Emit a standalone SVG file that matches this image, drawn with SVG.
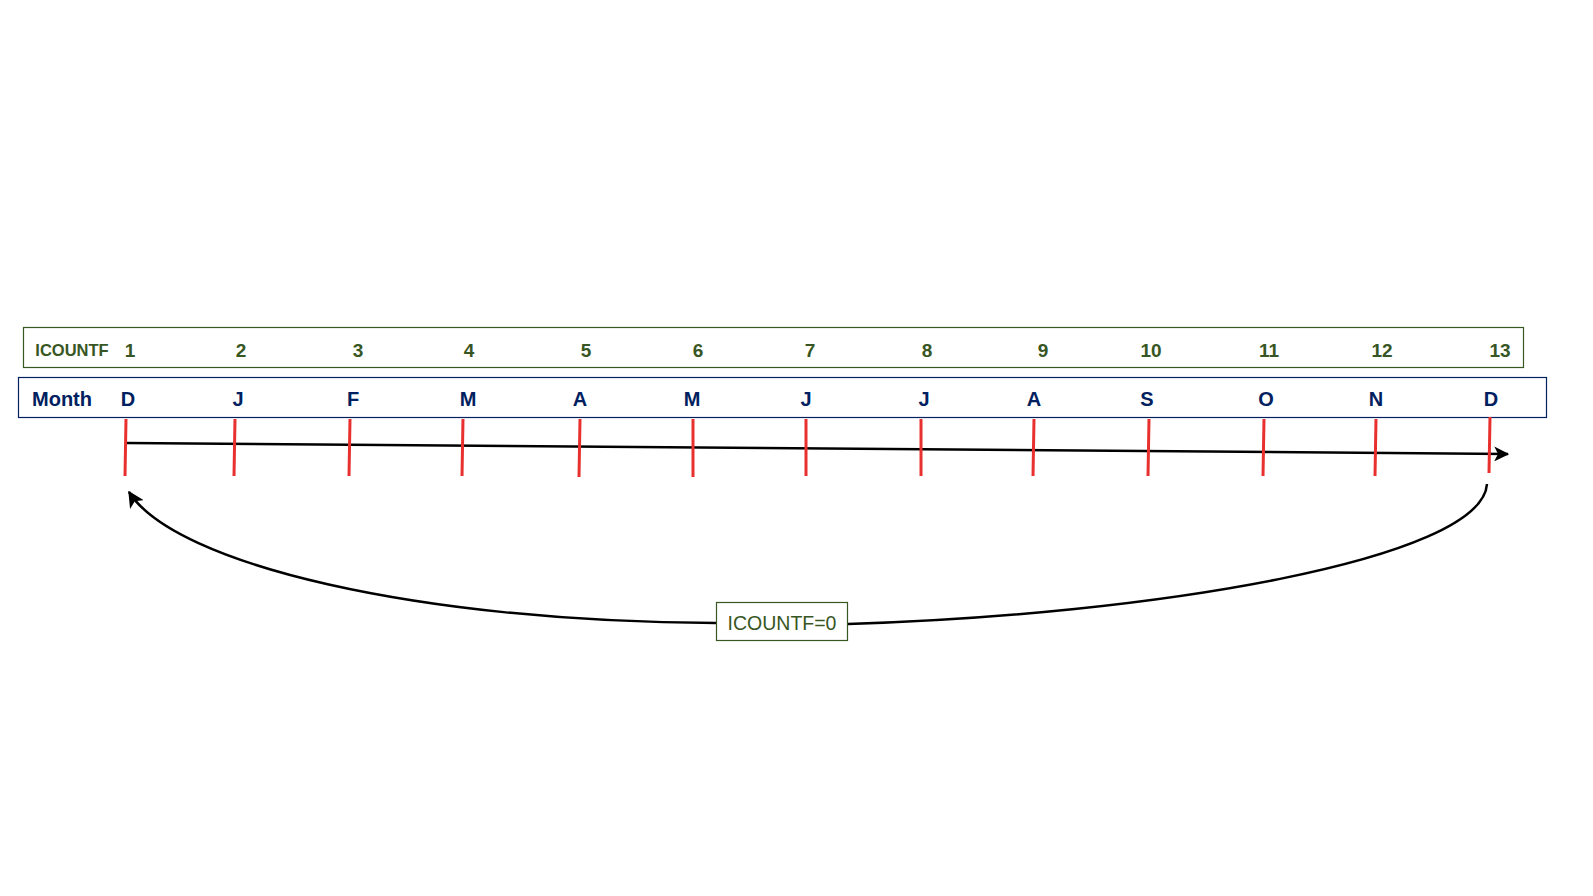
<svg xmlns="http://www.w3.org/2000/svg" width="1593" height="896" viewBox="0 0 1593 896">
<style>
.g{font-family:"Liberation Sans",Arial,sans-serif;font-weight:bold;font-size:19px;fill:#375623;text-anchor:middle}
.gl{font-family:"Liberation Sans",Arial,sans-serif;font-weight:bold;font-size:16.5px;fill:#375623;text-anchor:middle}
.m{font-family:"Liberation Sans",Arial,sans-serif;font-weight:bold;font-size:20px;fill:#002060;text-anchor:middle}
.tick{stroke:#e8302f;stroke-width:3}
.conn{fill:none;stroke:#000;stroke-width:2.5}
</style>
<defs>
<marker id="ah" viewBox="0 0 12 12" refX="11" refY="6" markerWidth="6" markerHeight="6" orient="auto" markerUnits="strokeWidth">
<path d="M0,0 L12,6 L0,12 L3,6 Z" fill="#000"/>
</marker>
<marker id="ah2" viewBox="0 0 12 12" refX="11" refY="6" markerWidth="6.5" markerHeight="6.5" orient="auto" markerUnits="strokeWidth">
<path d="M0,0 L12,6 L0,12 L3,6 Z" fill="#000"/>
</marker>
</defs>
<rect width="1593" height="896" fill="#fff"/>
<g id="icountf-row">
<rect x="23.5" y="327.5" width="1500" height="40" fill="#fff" stroke="#385723" stroke-width="1.2"/>
<text class="gl" x="72" y="356">ICOUNTF</text>
<text class="g" x="130" y="357">1</text>
<text class="g" x="241" y="357">2</text>
<text class="g" x="358" y="357">3</text>
<text class="g" x="469" y="357">4</text>
<text class="g" x="586" y="357">5</text>
<text class="g" x="698" y="357">6</text>
<text class="g" x="810" y="357">7</text>
<text class="g" x="927" y="357">8</text>
<text class="g" x="1043" y="357">9</text>
<text class="g" x="1151" y="357">10</text>
<text class="g" x="1269" y="357">11</text>
<text class="g" x="1382" y="357">12</text>
<text class="g" x="1500" y="357">13</text>
</g>
<g id="month-row">
<rect x="18.5" y="377.5" width="1528" height="40" fill="#fff" stroke="#002060" stroke-width="1.2"/>
<text class="m" x="62" y="406">Month</text>
<text class="m" x="128" y="406">D</text>
<text class="m" x="238" y="406">J</text>
<text class="m" x="353" y="406">F</text>
<text class="m" x="468" y="406">M</text>
<text class="m" x="580" y="406">A</text>
<text class="m" x="692" y="406">M</text>
<text class="m" x="806" y="406">J</text>
<text class="m" x="924" y="406">J</text>
<text class="m" x="1034" y="406">A</text>
<text class="m" x="1147" y="406">S</text>
<text class="m" x="1266" y="406">O</text>
<text class="m" x="1376" y="406">N</text>
<text class="m" x="1491" y="406">D</text>
</g>
<g id="connectors">
<line class="conn" x1="126" y1="443" x2="1508" y2="454" stroke-width="3" marker-end="url(#ah)"/>
<path class="conn" d="M716,623 C420,622 175,565 129,492" marker-end="url(#ah2)"/>
<path class="conn" d="M848,624 C1150,615 1482,560 1487,484"/>
</g>
<g id="ticks">
<line class="tick" x1="126" y1="419" x2="125" y2="476"/>
<line class="tick" x1="235" y1="419" x2="234" y2="476"/>
<line class="tick" x1="350" y1="419" x2="349" y2="476"/>
<line class="tick" x1="463" y1="419" x2="462" y2="476"/>
<line class="tick" x1="580" y1="419" x2="579" y2="477"/>
<line class="tick" x1="693" y1="419" x2="693" y2="477"/>
<line class="tick" x1="806" y1="419" x2="806" y2="476"/>
<line class="tick" x1="921" y1="419" x2="921" y2="476"/>
<line class="tick" x1="1034" y1="419" x2="1033" y2="476"/>
<line class="tick" x1="1149" y1="419" x2="1148" y2="476"/>
<line class="tick" x1="1264" y1="419" x2="1263" y2="476"/>
<line class="tick" x1="1376" y1="419" x2="1375" y2="476"/>
<line class="tick" x1="1490" y1="417" x2="1489" y2="473"/>
</g>
<g id="label-icountf0">
<rect x="716.5" y="602.5" width="131" height="38" fill="#fff" stroke="#385723" stroke-width="1.2"/>
<text x="782" y="630" font-family="Liberation Sans, Arial, sans-serif" font-size="19.5" fill="#375623" text-anchor="middle">ICOUNTF=0</text>
</g>
</svg>
